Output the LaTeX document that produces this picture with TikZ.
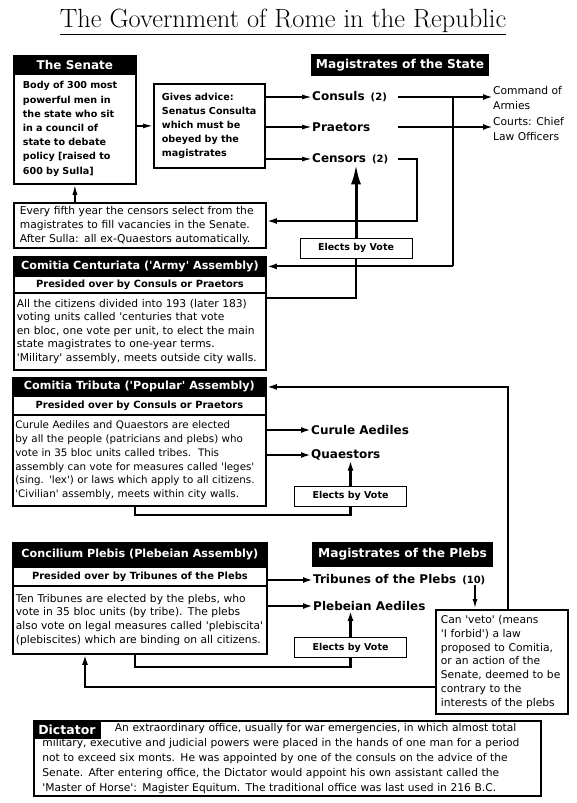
\documentclass[tikz,border=0pt]{standalone}
\usepackage{fontspec}
\usetikzlibrary{positioning, arrows.meta, calc}
\newfontfamily\verd{DejaVu Sans}
\tikzset{
  bodybox/.style={draw, line width=1.8pt, anchor=north west, inner xsep=3pt, inner ysep=1pt,
    align=left, font=\verd\fontsize{10.7}{13.8}\selectfont},
  boldbox/.style={bodybox, font=\verd\bfseries\fontsize{9.6}{14.2}\selectfont},
  hdr/.style={fill=black, draw=black, line width=1.8pt, text=white, anchor=north west,
    inner sep=0pt, font=\verd\bfseries\fontsize{11.2}{13}\selectfont},
  bighdr/.style={hdr, anchor=center, font=\verd\bfseries\fontsize{12.2}{14}\selectfont},
  subhdr/.style={draw, line width=1.8pt, anchor=north west, inner sep=0pt,
    font=\verd\bfseries\fontsize{9.9}{11}\selectfont},
  vote/.style={draw, line width=0.9pt, fill=white, inner sep=0pt, minimum width=112pt,
    minimum height=20pt, font=\verd\bfseries\fontsize{9.5}{11}\selectfont},
  mag/.style={anchor=west, inner sep=0pt, font=\verd\bfseries\fontsize{12}{14}\selectfont},
  duty/.style={anchor=north west, inner sep=0pt, align=left, font=\verd\fontsize{10.7}{15}\selectfont},
  wire/.style={line width=2.4pt},
  link/.style={wire, -{Latex[length=10pt,width=6pt]}},
  feed/.style={line width=1.4pt, -{Latex[length=10pt,width=5pt]}},
  bigup/.style={line width=3pt, -{Latex[length=20pt,width=10pt]}},
}
\newcommand{\cnt}[1]{{\fontsize{10}{11}\selectfont\hspace{6pt}#1}}

\begin{document}
\begin{tikzpicture}[x=1pt, y=-1pt]
  \useasboundingbox (0,0) rectangle (576,803);

  \node[font=\fontsize{26.4}{30}\selectfont] (title) at (283,22)
    {\underline{The Government of Rome in the Republic}};

  % the senate
  \node[hdr, minimum width=122pt, minimum height=18pt,
        font=\verd\bfseries\fontsize{12}{14}\selectfont] (senh) at (13,55) {The Senate};
  \node[boldbox, minimum width=122pt, minimum height=110pt, inner xsep=9pt, text width=104pt]
    (sen) at (13,73) {Body of 300 most\\powerful men in\\the state who sit\\in a council of\\
    state to debate\\policy [raised to\\600 by Sulla]};
  \node[boldbox, minimum width=111pt, minimum height=84pt, inner xsep=8pt, text width=95pt]
    (adv) at (153,83) {Gives advice:\\Senatus Consulta\\which must be\\obeyed by the\\magistrates};
  \node[bodybox, minimum width=252pt, minimum height=45pt, inner xsep=6pt, text width=240pt,
        font=\verd\fontsize{10.7}{14}\selectfont]
    (fifth) at (13,202) {Every fifth year the censors select from the\\
    magistrates to fill vacancies in the Senate.\\After Sulla: all ex-Quaestors automatically.};

  % magistrates of the state
  \node[bighdr, minimum width=177pt, minimum height=21pt] (stateh) at (400,65)
    {Magistrates of the State};
  \node[mag] (consuls) at (312,97) {Consuls\cnt{(2)}};
  \node[mag] (praetors) at (312,127) {Praetors};
  \node[mag] (censors) at (312,159) {Censors\cnt{(2)}};
  \node[duty] (cmd) at (493,86) {Command of\\Armies};
  \node[duty] (courts) at (493,117) {Courts: Chief\\Law Officers};

  % comitia centuriata
  \node[hdr, minimum width=252pt, minimum height=19pt] (cch) at (13,256)
    {Comitia Centuriata ('Army' Assembly)};
  \node[subhdr, minimum width=252pt, minimum height=17pt] (ccs) at (13,275)
    {Presided over by Consuls or Praetors};
  \node[bodybox, minimum width=252pt, minimum height=77pt, text width=246pt,
        font=\verd\fontsize{10.7}{13.4}\selectfont] (ccb) at (13,292)
    {All the citizens divided into 193 (later 183)\\voting units called 'centuries that vote\\
    en bloc, one vote per unit, to elect the main\\state magistrates to one-year terms.\\
    'Military' assembly, meets outside city walls.};
  \node[vote] (v1) at (356,248) {Elects by Vote};

  % comitia tributa
  \node[hdr, minimum width=253pt, minimum height=18pt] (cth) at (12,377)
    {Comitia Tributa ('Popular' Assembly)};
  \node[subhdr, minimum width=253pt, minimum height=19pt] (cts) at (12,395)
    {Presided over by Consuls or Praetors};
  \node[bodybox, minimum width=253pt, minimum height=91pt, inner xsep=2.5pt, text width=248pt,
        font=\verd\fontsize{10.3}{13.8}\selectfont] (ctb) at (12,414)
    {Curule Aediles and Quaestors are elected\\by all the people (patricians and plebs) who\\
    vote in 35 bloc units called tribes.\ \ This\\assembly can vote for measures called 'leges'\\
    (sing. 'lex') or laws which apply to all citizens.\\'Civilian' assembly, meets within city walls.};
  \node[mag] (curule) at (311,430) {Curule Aediles};
  \node[mag] (quaest) at (311,455) {Quaestors};
  \node[vote] (v2) at (350.5,496) {Elects by Vote};

  % concilium plebis
  \node[hdr, minimum width=254pt, minimum height=24pt] (cph) at (12,542)
    {Concilium Plebis (Plebeian Assembly)};
  \node[subhdr, minimum width=254pt, minimum height=19pt] (cps) at (12,566)
    {Presided over by Tribunes of the Plebs};
  \node[bodybox, minimum width=254pt, minimum height=68pt, text width=248pt] (cpb) at (12,585)
    {Ten Tribunes are elected by the plebs, who\\vote in 35 bloc units (by tribe). The plebs\\
    also vote on legal measures called 'plebiscita'\\(plebiscites) which are binding on all citizens.};
  \node[bighdr, minimum width=179pt, minimum height=23pt] (plebh) at (402.5,554.5)
    {Magistrates of the Plebs};
  \node[mag] (trib) at (313,580) {Tribunes of the Plebs\cnt{(10)}};
  \node[mag] (plaed) at (313,606) {Plebeian Aediles};
  \node[vote] (v3) at (350.5,647.5) {Elects by Vote};
  \node[bodybox, minimum width=132pt, minimum height=104pt, inner xsep=5pt, text width=122pt]
    (veto) at (435,609) {Can 'veto' (means\\'I forbid') a law\\proposed to Comitia,\\
    or an action of the\\Senate, deemed to be\\contrary to the\\interests of the plebs};

  % dictator
  \node[bodybox, minimum width=507pt, minimum height=75pt, inner xsep=8.5pt, text width=490pt,
        font=\verd\fontsize{10.7}{15}\selectfont] (dict) at (33,720)
    {\hspace*{72.5pt}An extraordinary office, usually for war emergencies, in which almost total\\
    military, executive and judicial powers were placed in the hands of one man for a period\\
    not to exceed six monts. He was appointed by one of the consuls on the advice of the\\
    Senate. After entering office, the Dictator would appoint his own assistant called the\\
    'Master of Horse': Magister Equitum. The traditional office was last used in 216 B.C.};
  \node[hdr, minimum width=66pt, minimum height=17pt,
        font=\verd\bfseries\fontsize{12.5}{14}\selectfont] (dicth) at (33,720) {Dictator};

  \coordinate (sout) at (398,0);
  \coordinate (junc) at (453,0);
  \coordinate (cens) at (417,221);
  \coordinate (ccout) at (0,298);
  \coordinate (vup) at (508,0);
  \coordinate (vetoin) at (475,0);
  \coordinate (ctdown) at (135,515);
  \coordinate (cpdown) at (135,667);
  \coordinate (back) at (85,687);

  % senate and advice
  \draw[feed] (sen.east |- adv.west) -- (adv.west);
  \draw[feed] (adv.east |- consuls) -- (consuls.west);
  \draw[feed] (adv.east |- praetors) -- (praetors.west);
  \draw[feed] (adv.east |- censors) -- (censors.west);
  \draw[feed] (fifth.north -| sen.south) -- (sen.south);

  % state magistrates
  \draw[link] (sout |- consuls) -- (cmd.west |- consuls);
  \draw[link] (sout |- praetors) -- (courts.west |- praetors);
  \draw[wire] (junc |- consuls) -- (junc |- cch.east);
  \draw[link, line width=2pt] (junc |- cch.east) -- (cch.east);
  \draw[link] (sout |- censors) -- (cens |- censors) -- (cens) -- (fifth.east |- cens);
  \draw[wire] (ccb.east |- ccout) -- (v1.south |- ccout) -- (v1.south);
  \draw[bigup] (v1.north) -- (v1.north |- censors.south);

  % tributa
  \draw[link] (ctb.east |- curule) -- (curule.west);
  \draw[link] (ctb.east |- quaest) -- (quaest.west);
  \draw[wire] (ctdown |- ctb.south) -- (ctdown) -- (ctdown -| v2.south) -- (v2.south);
  \draw[link] (v2.north) -- (v2.north |- quaest.south);

  % plebs
  \draw[link] (cpb.east |- trib) -- (trib.west);
  \draw[link] (cpb.east |- plaed) -- (plaed.west);
  \draw[wire] (cpdown |- cpb.south) -- (cpdown) -- (cpdown -| v3.south) -- (v3.south);
  \draw[link] (v3.north) -- (v3.north |- plaed.south);
  \draw[feed, line width=1.8pt] (vetoin |- trib.south) -- (vetoin |- veto.north);
  \draw[link] (vup |- veto.north) -- (vup |- cth.east) -- (cth.east);
  \draw[link] (veto.west |- back) -- (back) -- (back |- cpb.south);
\end{tikzpicture}
\end{document}
